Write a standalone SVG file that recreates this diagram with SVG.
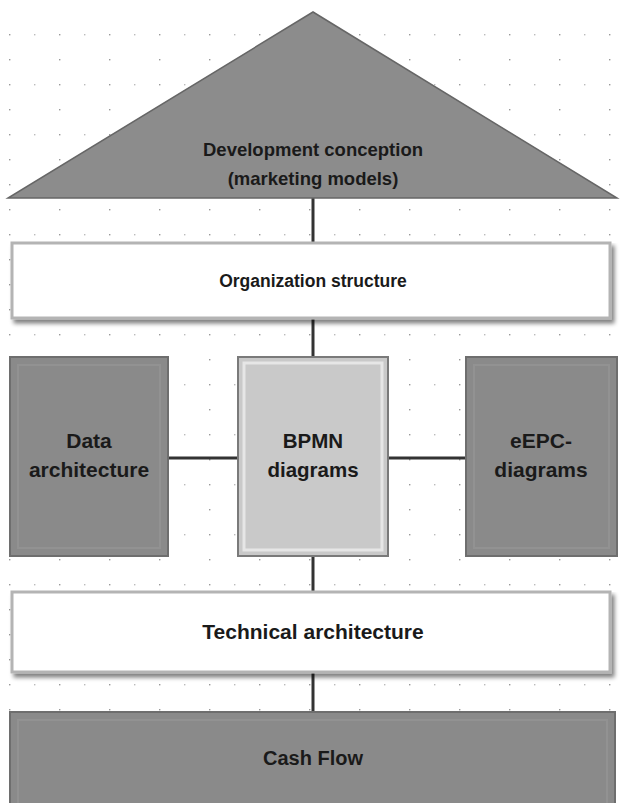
<svg xmlns="http://www.w3.org/2000/svg" width="620" height="803" viewBox="0 0 620 803">
<defs>
<pattern id="dots" x="0" y="0" width="50" height="50" patternUnits="userSpaceOnUse">
<rect x="9" y="9" width="1.4" height="1.4" fill="#999"/>
<rect x="9" y="34" width="1.4" height="1.4" fill="#999"/>
<rect x="34" y="34" width="1.4" height="1.4" fill="#bbb"/>
</pattern>
<filter id="sh" x="-5%" y="-5%" width="115%" height="130%">
<feGaussianBlur in="SourceAlpha" stdDeviation="2"/>
<feOffset dx="3" dy="4"/>
<feComponentTransfer><feFuncA type="linear" slope="0.5"/></feComponentTransfer>
<feMerge><feMergeNode/><feMergeNode in="SourceGraphic"/></feMerge>
</filter>
</defs>
<style>
.t{font-family:"Liberation Sans",Arial,sans-serif;font-weight:bold;fill:#1a1a1a;text-anchor:middle}
.dark{fill:#8a8a8a;stroke:#6e6e6e;stroke-width:2}
.inner{fill:none;stroke:#929292;stroke-width:2}
.white{fill:#fff;stroke:#b4b4b4;stroke-width:3}
.conn{stroke:#333;stroke-width:3;fill:none}
</style>
<rect width="620" height="803" fill="#fff"/>
<rect x="0" y="20" width="620" height="783" fill="url(#dots)"/>
<g id="connectors">
<line class="conn" x1="313" y1="198" x2="313" y2="243"/>
<line class="conn" x1="313" y1="318" x2="313" y2="357"/>
<line class="conn" x1="168" y1="458" x2="238" y2="458"/>
<line class="conn" x1="388" y1="458" x2="466" y2="458"/>
<line class="conn" x1="313" y1="556" x2="313" y2="592"/>
<line class="conn" x1="313" y1="672" x2="313" y2="712"/>
</g>
<g id="development">
<polygon points="313,12 8,198 617,198" fill="#8c8c8c" stroke="#666" stroke-width="1.5"/>
<text class="t" x="313" y="156" font-size="18.5">Development conception</text>
<text class="t" x="313" y="185" font-size="18.5">(marketing models)</text>
</g>
<g id="organization">
<rect class="white" x="12" y="243" width="598" height="75" filter="url(#sh)"/>
<text class="t" x="313" y="287" font-size="17.5">Organization structure</text>
</g>
<g id="data">
<rect class="dark" x="10" y="357" width="158" height="199"/>
<rect class="inner" x="18" y="365" width="142" height="183"/>
<text class="t" x="89" y="448" font-size="21">Data</text>
<text class="t" x="89" y="477" font-size="21">architecture</text>
</g>
<g id="bpmn">
<rect x="238" y="357" width="150" height="199" fill="#c9c9c9" stroke="#7a7a7a" stroke-width="2"/>
<rect x="244" y="363" width="138" height="187" fill="none" stroke="#e6e6e6" stroke-width="3"/>
<text class="t" x="313" y="448" font-size="20.5">BPMN</text>
<text class="t" x="313" y="477" font-size="20.5">diagrams</text>
</g>
<g id="eepc">
<rect class="dark" x="466" y="357" width="151" height="199"/>
<rect class="inner" x="474" y="365" width="135" height="183"/>
<text class="t" x="541" y="448" font-size="21">eEPC-</text>
<text class="t" x="541" y="477" font-size="21">diagrams</text>
</g>
<g id="technical">
<rect class="white" x="12" y="592" width="598" height="80" filter="url(#sh)"/>
<text class="t" x="313" y="639" font-size="21">Technical architecture</text>
</g>
<g id="cashflow">
<rect class="dark" x="10" y="712" width="605" height="94"/>
<rect class="inner" x="18" y="720" width="589" height="90"/>
<text class="t" x="313" y="765" font-size="20">Cash Flow</text>
</g>
</svg>
